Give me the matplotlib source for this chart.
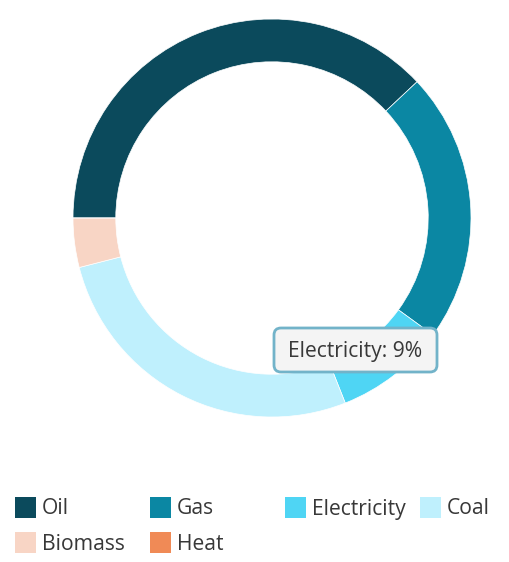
import matplotlib.pyplot as plt
from matplotlib.patches import Rectangle, FancyBboxPatch

plt.rcParams['font.family'] = ['Open Sans', 'DejaVu Sans']

# ===== data: energy mix shares [%]
sources = ['Oil', 'Gas', 'Electricity', 'Coal', 'Biomass', 'Heat']
shares = [38, 22, 9, 27, 4, 0]
colors = ['#0b4a5c', '#0b87a3', '#4fd5f4', '#bff0fd', '#f8d5c5', '#f08a56']
tooltip_item = 'Electricity'

W, H = 510, 562
cx, cy, R = 272, 218, 199   # ring centre / outer radius in pixels
ring_w = 0.215               # ring thickness as fraction of radius

fig = plt.figure(figsize=(W / 100, H / 100), dpi=100)

# donut, starting at 9 o'clock and going clockwise
ax = fig.add_axes([(cx - R) / W, 1 - (cy + R) / H, 2 * R / W, 2 * R / H])
ax.pie(shares, colors=colors, startangle=180, counterclock=False, radius=1,
       wedgeprops=dict(width=ring_w, edgecolor='white', linewidth=0.5))
ax.set_xlim(-1, 1)
ax.set_ylim(-1, 1)
ax.set_aspect('auto')
ax.axis('off')

# overlay in pixel coords for tooltip + legend
lax = fig.add_axes([0, 0, 1, 1])
lax.set_xlim(0, W)
lax.set_ylim(H, 0)
lax.axis('off')
lax.patch.set_alpha(0)

# tooltip box
idx = sources.index(tooltip_item)
lax.add_patch(FancyBboxPatch((274, 328), 163, 44, boxstyle='round,pad=0,rounding_size=7',
                             facecolor='#f4f4f4', edgecolor='#72b3c9', linewidth=2))
lax.text(355.5, 357.5, '%s: %d%%' % (sources[idx], shares[idx]), fontsize=15.2, color='#383838',
         ha='center', va='baseline')

# legend, laid out like the chart library does (flowing rows)
leg_pos = [(15, 507), (150, 507), (285, 507), (420, 507), (15, 542), (150, 542)]
box = 21
for (x, y), name, col in zip(leg_pos, sources, colors):
    lax.add_patch(Rectangle((x, y - box / 2), box, box, facecolor=col, edgecolor='none'))
    lax.text(x + box + 6, y + 7.5, name, fontsize=15.2, color='#383838', ha='left', va='baseline')

fig.savefig('out.png', dpi=100, facecolor='white')
